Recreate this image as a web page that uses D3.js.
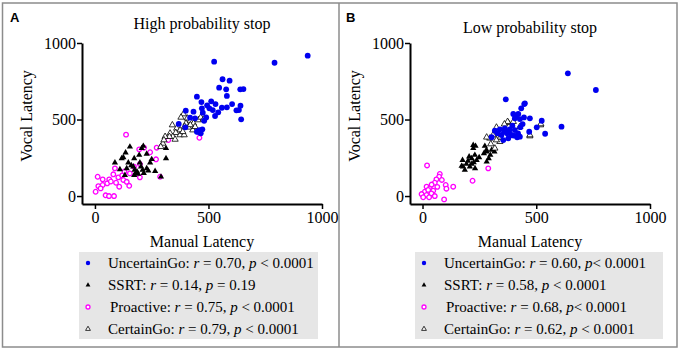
<!DOCTYPE html>
<html>
<head>
<meta charset="utf-8">
<script src="https://cdn.jsdelivr.net/npm/d3@7"></script>
<style>
  body { margin: 0; background: #fff; }
  svg text { font-family: "Liberation Serif", "Times New Roman", serif; }
</style>
</head>
<body>
<div id="chart"></div>
<script>
// ---- data: [manual latency, vocal latency] per participant ----
var highUncertainGo = [[525,878],[791,871],[937,917],[562,763],[593,754],[547,708],[578,697],[581,654],[640,697],[654,699],
  [449,649],[469,614],[512,619],[494,593],[531,601],[504,573],[519,562],[543,547],[529,523],[559,577],[581,580],[604,601],
  [641,590],[623,560],[644,501],[471,573],[475,545],[434,551],[400,558],[419,512],[441,508],[490,514],[481,492],[369,471],
  [398,449],[449,420],[460,431],[473,436],[466,410],[634,562],[455,420]];
var highSSRT = [[154,322],[213,327],[206,312],[313,312],[135,283],[125,253],[118,246],[173,246],[195,268],[228,275],
  [250,240],[313,246],[88,218],[147,218],[198,218],[243,218],[110,174],[140,181],[169,192],[203,192],[210,170],[235,165],
  [265,163],[132,137],[173,137],[291,126],[228,181],[185,160],[215,150],[160,200],[180,150],[190,145],[175,170]];
var highProactive = [[137,401],[195,305],[216,316],[243,286],[272,316],[323,366],[460,381],[269,240],[198,209],[88,181],
  [81,142],[12,126],[34,109],[63,109],[103,122],[125,105],[140,93],[15,65],[34,72],[54,83],[93,87],[107,61],[151,67],
  [25,50],[3,28],[47,5],[62,0],[84,0],[287,126],[198,122],[154,148],[172,192],[130,160],[70,95],[120,135]];
var highCertainGo = [[390,536],[379,514],[407,508],[419,490],[456,497],[466,514],[434,475],[401,475],[341,464],[360,442],
  [375,431],[356,414],[331,410],[343,388],[328,388],[309,388],[353,370],[375,399],[393,399],[412,449],[431,431],[299,344],
  [290,322],[387,420],[441,453],[478,501],[304,366],[420,465],[395,455]];

var lowUncertainGo = [[639,802],[762,693],[366,632],[450,606],[434,573],[399,536],[421,536],[406,508],[428,503],[472,508],
  [524,492],[502,449],[611,453],[539,407],[469,420],[318,427],[340,436],[362,442],[384,436],[406,431],[372,410],[347,399],
  [391,399],[416,384],[428,388],[304,384],[355,366],[377,377],[447,601],[446,514],[410,520],[395,460],[380,420],[420,410],
  [440,470],[360,420],[330,410],[400,395],[430,450]];
var lowSSRT = [[233,327],[223,312],[274,327],[281,301],[270,279],[316,290],[298,268],[291,246],[176,235],[205,257],
  [216,246],[238,235],[249,253],[282,224],[172,196],[186,170],[216,209],[231,181],[208,192],[193,209],[223,333],[230,268],
  [282,290],[304,301],[178,192],[200,230],[225,220]];
var lowProactive = [[20,200],[289,181],[220,100],[76,144],[73,126],[61,109],[54,87],[102,72],[105,48],[135,61],[18,61],
  [32,50],[47,35],[10,28],[39,17],[-4,13],[18,7],[54,0],[3,-8],[29,-8],[95,-22],[65,60],[40,75],[85,105],[25,40]];
var lowCertainGo = [[377,479],[325,449],[296,377],[340,355],[318,312],[519,464],[472,392],[421,388],[399,486],[428,453],
  [310,399],[374,486],[342,384],[325,366],[282,384],[472,399],[520,471],[360,470],[300,340]];

var seriesNames = ["UncertainGo", "SSRT", "Proactive", "CertainGo"];
var highR = ["0.70", "0.14", "0.75", "0.79"];
var highP = [" < 0.0001", " = 0.19", " < 0.0001", " < 0.0001"];
var lowR = ["0.60", "0.58", "0.68", "0.62"];
var lowP = ["< 0.0001", " < 0.0001", "< 0.0001", " < 0.0001"];
var axisTicks = [0, 500, 1000];

var W = 680, H = 350;
var svg = d3.select("#chart").append("svg").attr("width", W).attr("height", H);

// frame around both panels
svg.append("rect").attr("x", 2.5).attr("y", 3).attr("width", 674.5).attr("height", 344)
  .attr("fill", "none").attr("stroke", "#8c8c8c").attr("stroke-width", 1.5);
svg.append("line").attr("x1", 339).attr("x2", 339).attr("y1", 3).attr("y2", 347)
  .attr("stroke", "#8c8c8c").attr("stroke-width", 1.5);

var symTri = d3.symbol().type(d3.symbolTriangle);

function drawMarker(g, kind, big) {
  if (kind == "UncertainGo") {
    g.append("circle").attr("r", big ? 2.9 : 2.2).attr("fill", "#0000f0");
  } else if (kind == "SSRT") {
    g.append("path").attr("d", symTri.size(big ? 17 : 10)()).attr("fill", "#000");
  } else if (kind == "Proactive") {
    g.append("circle").attr("r", big ? 2.3 : 2).attr("fill", "#fff")
      .attr("stroke", "#ff00ff").attr("stroke-width", 1.3);
  } else {
    g.append("path").attr("d", symTri.size(big ? 17 : 10)()).attr("fill", "#fff")
      .attr("stroke", "#000").attr("stroke-width", 0.8);
  }
}

function drawPanel(o) {
  var g = svg.append("g");
  var x = d3.scaleLinear().domain([o.xMin, 1000]).range([o.left, o.left + 240]);
  var y = d3.scaleLinear().domain([-52, 1000]).range([204, 43]);

  // panel letter
  g.append("text").attr("x", o.letterX).attr("y", 22)
    .style("font-family", "Liberation Sans, Arial, sans-serif").style("font-weight", "bold")
    .style("font-size", "13px").text(o.letter);

  // title
  g.append("text").attr("x", x(o.xMin) + 120).attr("y", o.titleY).attr("text-anchor", "middle")
    .style("font-size", "16px").text(o.title);

  // axes
  var ax = g.append("g").attr("transform", "translate(0,204)")
    .call(d3.axisBottom(x).tickValues(axisTicks).tickFormat(d3.format("d"))
      .tickSize(5).tickSizeOuter(0).tickPadding(3));
  var ay = g.append("g").attr("transform", "translate(" + o.left + ",0)")
    .call(d3.axisLeft(y).tickValues(axisTicks).tickFormat(d3.format("d"))
      .tickSize(5).tickSizeOuter(0).tickPadding(1));
  [ax, ay].forEach(function(a) {
    a.select(".domain").attr("stroke-width", 2);
    a.selectAll(".tick line").attr("stroke-width", 1.5);
    a.selectAll(".tick text").style("font-family", "Liberation Serif, serif").style("font-size", "16px").attr("fill", "#000");
  });

  g.append("text").attr("x", o.left + 120).attr("y", 247).attr("text-anchor", "middle")
    .style("font-size", "16px").text("Manual Latency");
  g.append("text").attr("transform", "translate(" + (o.left - 50) + ",116) rotate(-90)")
    .attr("text-anchor", "middle").style("font-size", "16px").text("Vocal Latency");

  // points: proactive, SSRT, certain, uncertain (uncertain on top)
  var order = [2, 1, 3, 0];
  order.forEach(function(i) {
    o.series[i].forEach(function(d) {
      var m = g.append("g").attr("transform", "translate(" + x(d[0]) + "," + y(d[1]) + ")");
      drawMarker(m, seriesNames[i], true);
    });
  });

  // legend
  var lg = g.append("g");
  lg.append("rect").attr("x", o.legX).attr("y", 252).attr("width", o.legW).attr("height", 87).attr("fill", "#e6e6e6");
  seriesNames.forEach(function(name, i) {
    var yy = 268 + i * 22;
    var m = lg.append("g").attr("transform", "translate(" + (o.legX + 9) + "," + (yy - 5) + ")");
    drawMarker(m, name, false);
    var t = lg.append("text").attr("x", o.legX + 29 + (name == "Proactive" ? 2 : 0)).attr("y", yy)
      .style("font-size", "15px").style("white-space", "pre");
    t.append("tspan").text(name + ": ");
    t.append("tspan").style("font-style", "italic").text("r");
    t.append("tspan").text(" = " + o.r[i] + ", ");
    t.append("tspan").style("font-style", "italic").text("p");
    t.append("tspan").text(o.p[i]);
  });
}

drawPanel({letter: "A", letterX: 10, title: "High probability stop", titleY: 29, left: 82, xMin: -57,
  legX: 79, legW: 239, r: highR, p: highP,
  series: [highUncertainGo, highSSRT, highProactive, highCertainGo]});
drawPanel({letter: "B", letterX: 346, title: "Low probability stop", titleY: 33, left: 410, xMin: -55,
  legX: 415, legW: 248, r: lowR, p: lowP,
  series: [lowUncertainGo, lowSSRT, lowProactive, lowCertainGo]});
</script>
</body>
</html>
